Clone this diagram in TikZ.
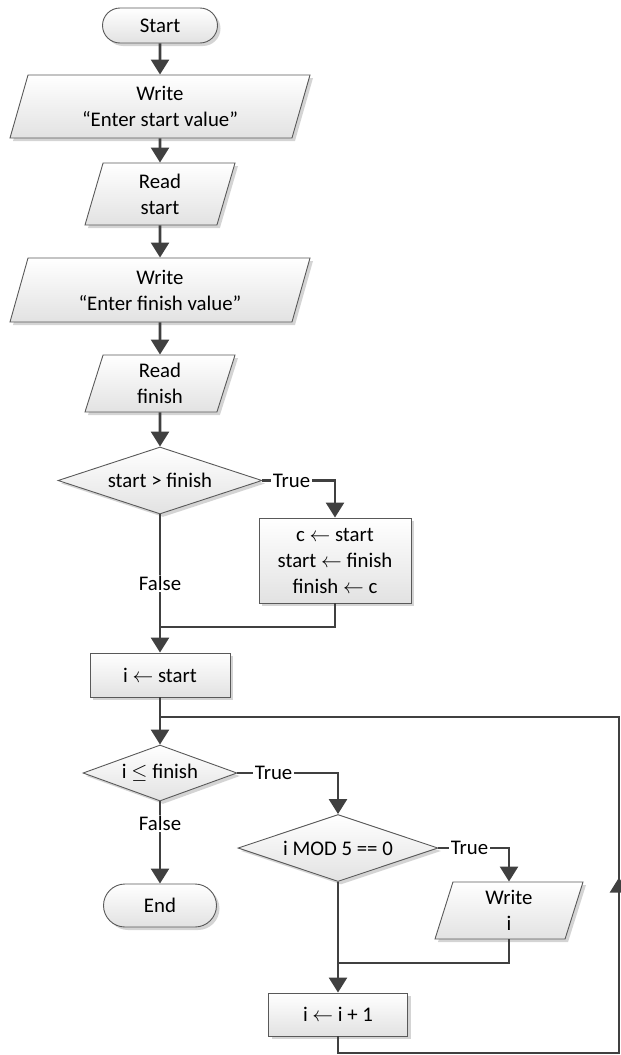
\documentclass[tikz,border=0pt]{standalone}
\usepackage{fontspec}
\setmainfont{Carlito}
\usetikzlibrary{arrows.meta,shapes.geometric,shapes.misc,shadows,decorations.markings}

\definecolor{linec}{HTML}{404040}
\definecolor{edgec}{HTML}{595959}
\definecolor{shadec}{HTML}{E2E2E2}
\definecolor{shadowc}{HTML}{D4D4D4}

% assignment arrow used in the process boxes
\newcommand{\asgn}{\ensuremath{\leftarrow}}

\begin{document}
\begin{tikzpicture}[x=1pt,y=-1pt,
  txt/.style={font=\fontsize{20.8}{26}\selectfont, align=center, text=black},
  boxbase/.style={txt, draw=edgec, line width=0.9pt, top color=white, bottom color=shadec,
    inner sep=0pt,
    drop shadow={shadow xshift=3pt, shadow yshift=-3pt, fill=shadowc, opacity=1}},
  termbox/.style={boxbase, rounded rectangle},
  procbox/.style={boxbase, rectangle},
  iobox/.style={boxbase, trapezium, trapezium left angle=66, trapezium right angle=114,
    trapezium stretches body},
  decbox/.style={boxbase, diamond, aspect=3},
  conn/.style={draw=linec, line width=2.6pt},
  tip/.style={-{Triangle[width=18pt,length=15pt]}},
  arr/.style={conn, tip},
  lbl/.style={txt, fill=white, inner sep=1.5pt},
]
\useasboundingbox (0,0) rectangle (621,1055);

% ---- nodes ----
\node[termbox, minimum width=115pt, minimum height=35pt] (start) at (160,25.5) {Start};
\node[iobox, minimum width=300pt, minimum height=63pt] (w1) at (160,106.5) {Write\\“Enter start value”};
\node[iobox, minimum width=150pt, minimum height=62pt] (r1) at (160,194) {Read\\start};
\node[iobox, minimum width=300pt, minimum height=64pt] (w2) at (160,290) {Write\\“Enter finish value”};
\node[iobox, minimum width=150pt, minimum height=57pt] (r2) at (160,383.5) {Read\\finish};
\node[decbox, minimum width=204pt, minimum height=67pt] (d1) at (160,480.5) {start > finish};
\node[procbox, minimum width=152pt, minimum height=85pt] (swap) at (335,560.5)
  {c \asgn\ start\\start \asgn\ finish\\finish \asgn\ c};
\node[procbox, minimum width=140pt, minimum height=44pt] (init) at (160,675) {i \asgn\ start};
\node[decbox, minimum width=154pt, minimum height=56pt] (d2) at (160,773) {i $\leq$ finish};
\node[termbox, minimum width=113pt, minimum height=43pt] (end) at (160,905.5) {End};
\node[decbox, minimum width=200pt, minimum height=67pt] (d3) at (338,848) {i MOD 5 == 0};
\node[iobox, minimum width=148pt, minimum height=57pt] (wi) at (509,910.5) {Write\\i};
\node[procbox, minimum width=139pt, minimum height=43pt] (inc) at (338,1014.5) {i \asgn\ i + 1};

% ---- junction and loop corner points ----
\coordinate (m1) at (160,627);
\coordinate (m2) at (160,717);
\coordinate (m3) at (338,963);
\coordinate (lp1) at (619,1053);
\coordinate (lp2) at (619,717);

% ---- connectors ----
\draw[arr] (start.south) -- (w1.north);
\draw[arr] (w1.south) -- (r1.north);
\draw[arr] (r1.south) -- (w2.north);
\draw[arr] (w2.south) -- (r2.north);
\draw[arr] (r2.south) -- (d1.north);
\draw[arr] (d1.east) -| node[lbl, pos=0.2] {True} (swap.north);
\draw[arr] (d1.south) -- node[lbl, pos=0.5] {False} (init.north);
\draw[conn] (swap.south) |- (m1);
\draw[arr] (init.south) -- (d2.north);
\draw[arr] (d2.east) -| node[lbl, pos=0.18] {True} (d3.north);
\draw[arr] (d2.south) -- node[lbl, pos=0.27] {False} (end.north);
\draw[arr] (d3.east) -| node[lbl, pos=0.22] {True} (wi.north);
\draw[arr] (d3.south) -- (inc.north);
\draw[conn] (wi.south) |- (m3);
\draw[conn, postaction={decorate},
  decoration={markings, mark=at position 473pt with {\arrow{Triangle[width=18pt,length=15pt]}}}]
  (inc.south) |- (lp1) -- (lp2) -- (m2);
\end{tikzpicture}
\end{document}
